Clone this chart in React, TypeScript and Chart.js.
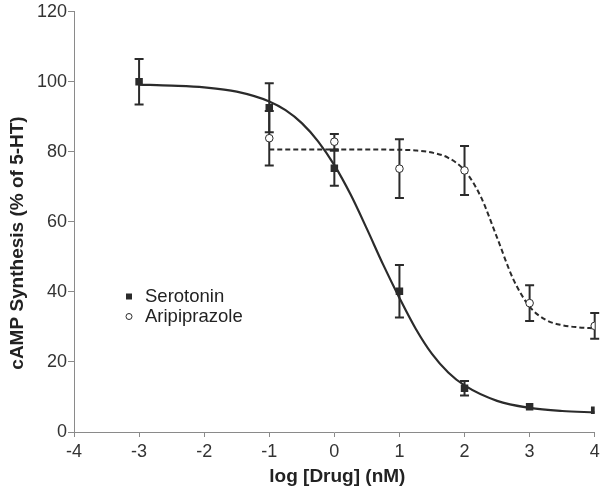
import React, { useEffect, useRef } from "react";
import { Chart, registerables } from "chart.js";

Chart.register(...registerables);

// Measured points
const serotoninX = [-3, -1, 0, 1, 2, 3, 4];
const serotoninY = [100, 92.6, 75.3, 40.2, 12.5, 7.2, 6.2];
const serotoninErr = [6.5, 7, 5, 7.5, 2.1, 0, 0];

const aripX = [-1, 0, 1, 2, 3, 4];
const aripY = [83.9, 82.9, 75.2, 74.7, 36.8, 30.3];
const aripErr = [7.8, 2.2, 8.4, 7, 5.1, 3.7];

// Fitted curves
const serotoninCurveX = [-3, -2.5, -2, -1.5, -1, -0.75, -0.5, -0.25, 0, 0.25, 0.5, 0.75, 1, 1.25, 1.5, 1.75, 2, 2.5, 3, 3.5, 4];
const serotoninCurveY = [99.2, 98.9, 98.4, 97.2, 94.4, 91.9, 88.2, 83.0, 76.2, 67.8, 58.0, 47.8, 38.3, 29.5, 22.3, 17.0, 13.3, 8.9, 6.9, 6.0, 5.6];

const aripCurveX = [-1, 0, 1, 1.25, 1.5, 1.75, 2, 2.25, 2.5, 2.75, 3, 3.25, 3.5, 3.75, 4];
const aripCurveY = [80.7, 80.7, 80.6, 80.4, 79.8, 78.3, 74.7, 67.2, 55.5, 43.6, 35.8, 32.0, 30.5, 29.9, 29.6];

const legendLabels = ["Serotonin", "Aripiprazole"];
const xTicks = [-4, -3, -2, -1, 0, 1, 2, 3, 4];
const yTicks = [0, 20, 40, 60, 80, 100, 120];
const xTitle = "log [Drug] (nM)";
const yTitle = "cAMP Synthesis (% of 5-HT)";

const INK = "#2b2b2b";
const AXIS = "#8a8a8a";
const FONT = "'Liberation Sans', Arial, Helvetica, sans-serif";

export default function App() {
  const ref = useRef<HTMLCanvasElement | null>(null);

  useEffect(() => {
    document.body.style.margin = "0";
    const canvas = ref.current;
    if (!canvas) return;

    const errorBars = {
      id: "errorBars",
      beforeDatasetsDraw(chart: any) {
        const { ctx, scales } = chart;
        const xs = scales.x;
        const ys = scales.y;
        const drawSet = (X: number[], Y: number[], E: number[]) => {
          X.forEach((xv, i) => {
            if (!E[i]) return;
            const px = xs.getPixelForValue(xv);
            const top = ys.getPixelForValue(Y[i] + E[i]);
            const bot = ys.getPixelForValue(Y[i] - E[i]);
            ctx.save();
            ctx.strokeStyle = INK;
            ctx.lineWidth = 2;
            ctx.beginPath();
            ctx.moveTo(px, top);
            ctx.lineTo(px, bot);
            ctx.moveTo(px - 4.5, top);
            ctx.lineTo(px + 4.5, top);
            ctx.moveTo(px - 4.5, bot);
            ctx.lineTo(px + 4.5, bot);
            ctx.stroke();
            ctx.restore();
          });
        };
        drawSet(serotoninX, serotoninY, serotoninErr);
        drawSet(aripX, aripY, aripErr);
      },
    };

    const overlay = {
      id: "overlay",
      afterDraw(chart: any) {
        const { ctx, chartArea } = chart;
        // legend
        const lx = chartArea.left + 55;
        const y1 = chartArea.bottom - 135.5;
        const y2 = y1 + 20;
        ctx.save();
        ctx.fillStyle = INK;
        ctx.fillRect(lx - 3, y1 - 3, 6, 6);
        ctx.beginPath();
        ctx.arc(lx, y2, 3, 0, Math.PI * 2);
        ctx.fillStyle = "#fff";
        ctx.fill();
        ctx.strokeStyle = INK;
        ctx.lineWidth = 1;
        ctx.stroke();
        ctx.fillStyle = "#222";
        ctx.font = `18.5px ${FONT}`;
        ctx.textBaseline = "middle";
        ctx.textAlign = "left";
        ctx.fillText(legendLabels[0], lx + 16, y1);
        ctx.fillText(legendLabels[1], lx + 16, y2);
        // x title
        ctx.textAlign = "center";
        ctx.font = `bold 19px ${FONT}`;
        ctx.fillText(xTitle, (chartArea.left + chartArea.right) / 2 + 3, 477);
        // y title
        ctx.translate(18, 243);
        ctx.rotate(-Math.PI / 2);
        ctx.fillText(yTitle, 0, 0);
        ctx.restore();
      },
    };

    const chart = new Chart(canvas, {
      type: "scatter",
      data: {
        datasets: [
          {
            label: "Serotonin fit",
            data: serotoninCurveX.map((x, i) => ({ x, y: serotoninCurveY[i] })),
            showLine: true,
            pointRadius: 0,
            borderColor: INK,
            borderWidth: 2.2,
            cubicInterpolationMode: "monotone",
            order: 3,
          },
          {
            label: "Aripiprazole fit",
            data: aripCurveX.map((x, i) => ({ x, y: aripCurveY[i] })),
            showLine: true,
            pointRadius: 0,
            borderColor: INK,
            borderWidth: 2,
            borderDash: [5, 3],
            cubicInterpolationMode: "monotone",
            order: 3,
          },
          {
            label: legendLabels[0],
            data: serotoninX.map((x, i) => ({ x, y: serotoninY[i] })),
            pointStyle: "rect",
            pointRadius: 5.3,
            backgroundColor: INK,
            borderColor: INK,
            borderWidth: 0,
            order: 1,
          },
          {
            label: legendLabels[1],
            data: aripX.map((x, i) => ({ x, y: aripY[i] })),
            pointStyle: "circle",
            pointRadius: 3.8,
            backgroundColor: "#ffffff",
            borderColor: INK,
            borderWidth: 1,
            order: 0,
          },
        ],
      },
      options: {
        responsive: false,
        animation: false,
        devicePixelRatio: 1,
        layout: { padding: { top: 11, right: 0, left: 0, bottom: 0 } },
        plugins: {
          legend: { display: false },
          tooltip: { enabled: false },
        },
        scales: {
          x: {
            type: "linear",
            min: -4,
            max: 4,
            afterBuildTicks: (s: any) => {
              s.ticks = xTicks.map((v) => ({ value: v }));
            },
            afterFit: (s: any) => {
              s.height = 55;
              s.paddingRight = 5;
            },
            border: { display: true, color: AXIS, width: 1 },
            grid: { display: true, drawOnChartArea: false, drawTicks: true, tickLength: 5, color: AXIS },
            ticks: { color: "#333", font: { family: FONT, size: 18 }, padding: 4, maxRotation: 0 },
            title: { display: false },
          },
          y: {
            type: "linear",
            min: 0,
            max: 120,
            afterBuildTicks: (s: any) => {
              s.ticks = yTicks.map((v) => ({ value: v }));
            },
            afterFit: (s: any) => {
              s.width = 74;
            },
            border: { display: true, color: AXIS, width: 1 },
            grid: { display: true, drawOnChartArea: false, drawTicks: true, tickLength: 6, color: AXIS },
            ticks: { color: "#333", font: { family: FONT, size: 18 }, padding: 1 },
            title: { display: false },
          },
        },
      },
      plugins: [errorBars, overlay],
    } as any);

    return () => chart.destroy();
  }, []);

  return (
    <div style={{ width: 600, height: 487, position: "relative" }}>
      <canvas ref={ref} width={600} height={487} style={{ width: 600, height: 487, display: "block" }} />
    </div>
  );
}
